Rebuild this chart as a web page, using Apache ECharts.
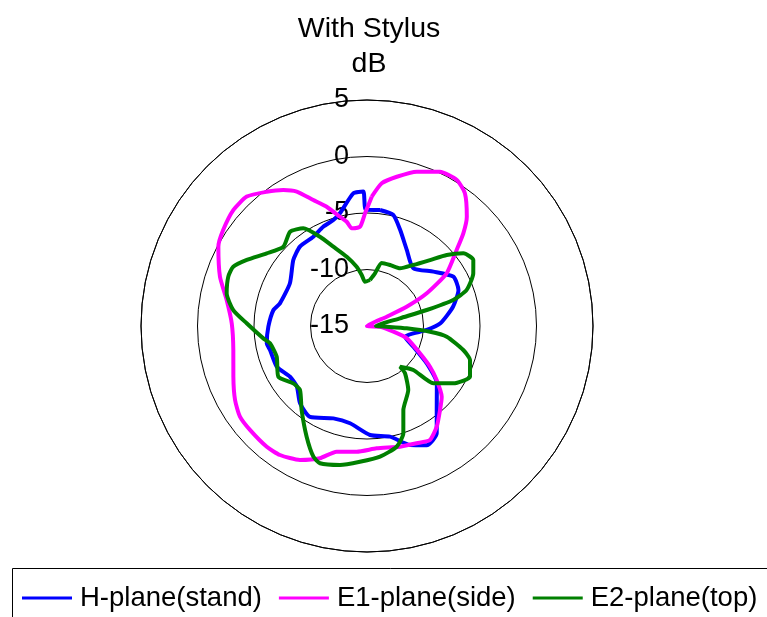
<!DOCTYPE html>
<html>
<head>
<meta charset="utf-8">
<title>With Stylus</title>
<script src="https://cdn.jsdelivr.net/npm/echarts@6/dist/echarts.min.js"></script>
<style>
  html, body { margin: 0; padding: 0; background: #fff; }
  #main { width: 767px; height: 617px; }
</style>
</head>
<body>
<div id="main"></div>
<script>
// angles in degrees, clockwise from top; values in dB
var hAngles = [6.4, 13.3, 19, 27.6, 38.7, 50.7, 60.3, 68.5, 77.4, 87.9, 93.8, 99, 105.7, 114.1, 122, 129.4, 140.3, 147, 153.4, 160.1, 168.3, 178.4, 189.9, 200, 212.1, 220.9, 229.2, 236.6, 245.7, 256.1, 260.2, 269.6, 279.7, 284.6, 299, 311.8, 319.8, 329, 336.2, 342.4, 346.5, 354.1, 358.4, 359.4];
var hValues = [-4.67, -4.9, -6.0, -7.4, -8.45, -7.4, -6.2, -6.3, -7.2, -8.5, -9.7, -10.85, -11.5, -10.5, -8.77, -7.0, -5.34, -3.67, -3.2, -3.8, -5.0, -5.35, -6.26, -6.3, -5.5, -5.95, -6.8, -6.84, -6.24, -6.16, -6.0, -6.27, -6.6, -7.04, -7.2, -6.25, -5.8, -5.78, -5.4, -5.16, -4.74, -3.2, -3.1, -4.7];

var e1Angles = [2.1, 5.9, 11.3, 17.9, 25.3, 31.6, 36.4, 42.4, 46.1, 49.7, 56.5, 61.3, 64.1, 64.7, 80, 93, 102.2, 107.2, 117.3, 122.9, 127.8, 133.4, 139, 145.3, 151.1, 157, 164.7, 175.5, 184.7, 193.6, 199.6, 206.6, 214, 219.7, 228.4, 234.5, 240.7, 249.2, 259.8, 271.1, 280.5, 288.5, 298.1, 303.7, 311, 317.1, 323.2, 328.4, 332.4, 336.9, 341.3, 346.1, 349, 351.1, 356, 359];
var e1Values = [-3.55, -2.3, -1.53, -0.65, 0.1, 0.17, -0.4, -1.9, -3.17, -4.6, -6.55, -8.97, -11.1, -13.07, -15, -13.85, -12.6, -11.3, -9.73, -8.36, -7.2, -5.9, -5.15, -4.16, -3.48, -3.73, -3.93, -4.14, -3.84, -3.56, -2.58, -1.74, -1.23, -1.11, -1.15, -1.19, -1.61, -2.35, -2.98, -3.03, -2.37, -1.28, -0.09, 0.3, 0.66, 0.63, -0.17, -0.87, -1.58, -2.88, -3.86, -5.04, -5.6, -6.25, -6.19, -5.03];

var e2Angles = [3.7, 8.6, 13.1, 20.7, 29.8, 37.2, 43.7, 48.3, 53, 58.2, 63.6, 70.1, 73.2, 75, 76.9, 90, 92, 93.3, 95.2, 97.6, 104, 108.3, 116.2, 123.6, 130.8, 133.5, 141, 141.2, 147.2, 156.6, 161.3, 166.2, 174.3, 183, 191, 198.9, 202.3, 208.6, 217.9, 226.3, 232.1, 240.2, 251.2, 259.9, 263.2, 271.3, 276.8, 283.1, 289.6, 293.9, 298.8, 305.9, 313.5, 320.8, 326.9, 332.2, 337, 343.7, 350.1, 354.1, 357.4];
var e2Values = [-10.92, -10.28, -9.27, -9.23, -9.12, -8.22, -6.93, -5.55, -4.32, -3.93, -4.5, -5.62, -7.03, -9.53, -12.0, -14.2, -13.26, -11.48, -9.4, -7.88, -6.22, -5.4, -4.84, -5.83, -7.25, -9.35, -10.36, -9.63, -8.26, -6.9, -4.97, -4.0, -3.38, -2.97, -2.47, -2.16, -2.5, -3.84, -5.58, -6.8, -6.73, -5.96, -6.56, -6.28, -5.76, -4.35, -3.08, -2.25, -1.97, -2.05, -2.86, -4.04, -4.8, -4.23, -4.68, -6.07, -7.37, -8.61, -9.67, -10.46, -11.08];

var seriesNames = ['H-plane(stand)', 'E1-plane(side)', 'E2-plane(top)'];
var seriesColors = ['#0000ff', '#ff00ff', '#008000'];

// [radius, angle] pairs, first point repeated to close the loop
function toPolar(angles, values) {
  var out = [];
  for (var i = 0; i < angles.length; i++) {
    out.push([values[i], angles[i]]);
  }
  out.push([values[0], angles[0]]);
  return out;
}

function makeSeries(i, angles, values) {
  return {
    name: seriesNames[i],
    type: 'line',
    coordinateSystem: 'polar',
    symbol: 'none',
    smooth: 0.2,
    lineStyle: { color: seriesColors[i], width: 4 },
    itemStyle: { color: seriesColors[i] },
    data: toPolar(angles, values)
  };
}

var chart = echarts.init(document.getElementById('main'), null, { renderer: 'canvas' });

var font = 'Liberation Sans, Arial, sans-serif';

var option = {
  backgroundColor: '#fff',
  animation: false,
  title: {
    text: 'With Stylus\ndB',
    left: 364,
    top: 7,
    textAlign: 'center',
    textStyle: {
      fontFamily: font,
      fontSize: 28.5,
      fontWeight: 'normal',
      color: '#000',
      lineHeight: 35,
      align: 'center'
    }
  },
  // legend frame, runs off the right and bottom edges like the original
  graphic: [{
    type: 'rect',
    left: 10,
    top: 566,
    shape: { width: 780, height: 80 },
    style: { fill: 'none', stroke: '#000', lineWidth: 1 },
    silent: true
  }],
  polar: {
    center: [367, 326],
    radius: 226
  },
  angleAxis: {
    type: 'value',
    min: 0,
    max: 360,
    startAngle: 90,
    clockwise: true,
    axisLine: { show: true, lineStyle: { color: '#000', width: 1 } },
    axisTick: { show: false },
    axisLabel: { show: false },
    splitLine: { show: false }
  },
  radiusAxis: {
    type: 'value',
    min: -15,
    max: 5,
    interval: 5,
    axisLine: { show: false },
    axisTick: { show: false },
    axisLabel: {
      fontFamily: font,
      fontSize: 27,
      color: '#000',
      align: 'right',
      margin: 18
    },
    splitLine: { show: true, lineStyle: { color: '#000', width: 1 } }
  },
  legend: {
    left: 22,
    top: 584,
    width: 760,
    data: seriesNames,
    icon: 'rect',
    itemWidth: 50,
    itemHeight: 3,
    itemGap: 17,
    padding: 0,
    textStyle: { fontFamily: font, fontSize: 27.5, color: '#000', padding: [0, 0, 0, 3] }
  },
  series: [
    makeSeries(0, hAngles, hValues),
    makeSeries(1, e1Angles, e1Values),
    makeSeries(2, e2Angles, e2Values)
  ]
};

chart.setOption(option);
</script>
</body>
</html>
